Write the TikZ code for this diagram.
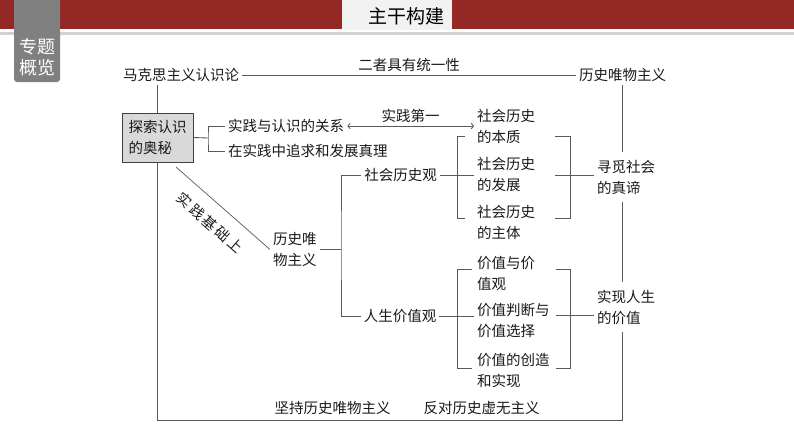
\documentclass[tikz,border=0pt]{standalone}
\usepackage{fontspec}
\usepackage{tikz}
\usetikzlibrary{arrows.meta, positioning}
\newfontfamily\cjk{Noto Sans CJK SC}
\definecolor{barred}{RGB}{148,40,36}
\definecolor{tabgray}{RGB}{128,128,128}
\definecolor{boxgray}{RGB}{217,217,217}
\definecolor{linegray}{RGB}{90,90,90}

\begin{document}
\begin{tikzpicture}[x=1pt, y=-1pt, >={To[length=3pt,width=6pt]},
    txt/.style={font=\cjk\fontsize{14.5}{21}\selectfont, text=black!90, inner sep=3pt, align=left},
    conn/.style={draw=linegray, line width=0.9pt}]
    \useasboundingbox (0,0) rectangle (794,447);
    % header bar
    \fill[barred] (0,0) rectangle (794,29);
    \fill[black!18] (0,31.5) rectangle (794,34.5);
    \fill[black!5] (342,0) rectangle (452,30);
    \node[font=\cjk\fontsize{19}{19}\selectfont] (title) at (406,16) {主干构建};
    \fill[tabgray, rounded corners=3pt] (14,-6) rectangle (60,82);
    \node[font=\cjk\fontsize{18}{21}\selectfont, text=white, align=center] (tab) at (37,57) {专题\\概览};

    % top row
    \node[txt] (mks) at (181,75) {马克思主义认识论};
    \node[txt] (lswy) at (622.5,75) {历史唯物主义};
    \draw[conn] (mks) -- (lswy) node[txt, midway, above] (tongyi) {二者具有统一性};

    % left box and its two branches
    \node[txt, draw=black!75, fill=boxgray, line width=0.9pt, minimum width=71pt, minimum height=49pt] (box) at (157.5,137.5) {探索认识\\的奥秘};
    \node[txt, anchor=west] (rel1) at (225,126) {实践与认识的关系};
    \node[txt, anchor=west] (rel2) at (225,151) {在实践中追求和发展真理};
    \draw[conn] (box.north) -- (box.north |- mks.south);
    \coordinate (bx) at (208,138);
    \draw[conn] (box.east) -- (bx);
    \draw[conn] (rel1.west) -| (bx) |- (rel2.west);

    % middle column
    \node[txt, anchor=west] (lswy2) at (270,249.5) {历史唯\\物主义};
    \node[txt] (shlsg) at (400.5,175) {社会历史观};
    \node[txt] (rsjzg) at (400,316) {人生价值观};
    \node[txt, anchor=west] (bz) at (474,126.5) {社会历史\\的本质};
    \node[txt, anchor=west] (fz) at (474,174.5) {社会历史\\的发展};
    \node[txt, anchor=west] (zt) at (474,222.5) {社会历史\\的主体};
    \node[txt, anchor=west] (jz1) at (474,273) {价值与价\\值观};
    \node[txt, anchor=west] (jz2) at (474,320.5) {价值判断与\\价值选择};
    \node[txt, anchor=west] (jz3) at (474,370) {价值的创造\\和实现};

    % right column
    \node[txt, inner ysep=8pt] (xs) at (626,177) {寻觅社会\\的真谛};
    \node[txt, inner ysep=8pt] (sx) at (626,307) {实现人生\\的价值};

    % bottom row
    \node[txt] (jc) at (332.5,408) {坚持历史唯物主义};
    \node[txt] (fd) at (481.5,408) {反对历史虚无主义};

    \draw[conn, <->] (rel1.east) -- (rel1.east -| bz.west) node[txt, midway, above] (dyi) {实践第一};

    \coordinate (d0) at (176,167);
    \draw[conn, line width=0.7pt] (d0) -- (lswy2.west);
    \node[txt, rotate=-41.5] (jcs) at (210,223) {实\,践\,基\,础\,上};

    \coordinate (bx2) at (341,244);
    \draw[conn] (lswy2.east) -- (lswy2.east -| bx2);
    \draw[conn] (shlsg.west) -| (bx2) |- (rsjzg.west);
    \draw[conn] (shlsg.east) -- (shlsg.east -| fz.west);
    \draw[conn] (rsjzg.east) -- (rsjzg.east -| jz2.west);

    % brackets
    \foreach \xa/\xb/\ya/\yb in {465/457/136/218, 472/457/269/368, 555/570/136/218, 556/570/269/368}
        \draw[conn] (\xa,\ya) -| (\xb,\yb) -- (\xa,\yb);
    \coordinate (m1) at (555,175);
    \coordinate (m2) at (556,315);
    \draw[conn] (m1) -- (m1 -| xs.west);
    \draw[conn] (m2) -- (m2 -| sx.west);

    % trunk on the right and along the bottom
    \coordinate (bottom) at (0,420);
    \draw[conn] (lswy.south) -- (lswy.south |- xs.north);
    \draw[conn] (lswy.south |- xs.south) -- (lswy.south |- sx.north);
    \draw[conn] (box.south) |- (lswy.south |- bottom) -- (lswy.south |- sx.south);
\end{tikzpicture}
\end{document}
